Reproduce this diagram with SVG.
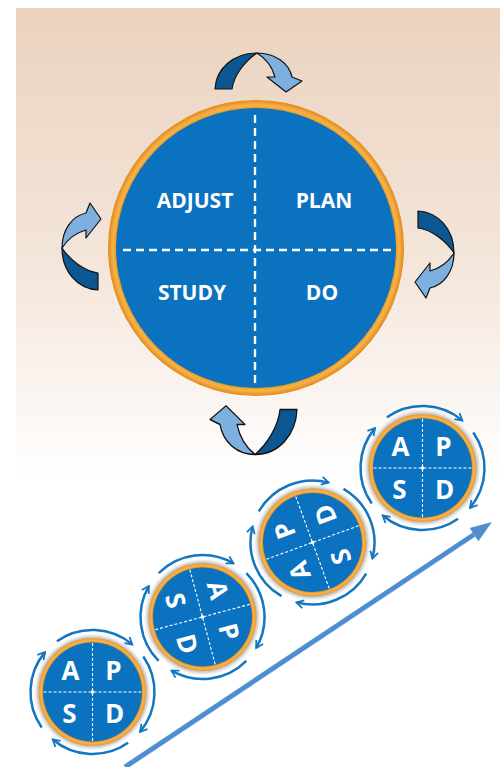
<svg xmlns="http://www.w3.org/2000/svg" xmlns:xlink="http://www.w3.org/1999/xlink" width="500" height="767" viewBox="0 0 500 767">
<defs>
<style>
.lbl{font-family:"Open Sans","Liberation Sans",sans-serif;font-weight:bold;fill:#ffffff;text-anchor:middle}
.big{font-size:21px}
.sm{font-size:26px}
.dk{fill:#0c5791;stroke:#111;stroke-width:1.2;stroke-linejoin:round}
.lt{fill:#7eb0df;stroke:#111;stroke-width:1.2;stroke-linejoin:round}
.ring{fill:none;stroke:#1276c1;stroke-width:2.5;marker-end:url(#chev)}
.dash{stroke:#ffffff;stroke-width:1.1;stroke-dasharray:3 2}
</style>
<linearGradient id="bg" x1="0" y1="0" x2="0" y2="1">
<stop offset="0" stop-color="#ebd2be"/>
<stop offset="0.55" stop-color="#f4e6db"/>
<stop offset="1" stop-color="#ffffff"/>
</linearGradient>
<radialGradient id="orB" cx="0.5" cy="0.5" r="0.5">
<stop offset="0.93" stop-color="#e38a1a"/>
<stop offset="0.965" stop-color="#f8b446"/>
<stop offset="1" stop-color="#e0891c"/>
</radialGradient>
<radialGradient id="orS" cx="0.5" cy="0.5" r="0.5">
<stop offset="0.9" stop-color="#d9801a"/>
<stop offset="0.95" stop-color="#f6b44c"/>
<stop offset="1" stop-color="#e49a3a"/>
</radialGradient>
<filter id="blur" x="-20%" y="-20%" width="140%" height="140%">
<feGaussianBlur stdDeviation="1.6"/>
</filter>
<marker id="chev" viewBox="0 0 10 10" refX="8" refY="5" markerWidth="10" markerHeight="10" markerUnits="userSpaceOnUse" orient="auto">
<path d="M1,1 L8,5 L1,9" fill="none" stroke="#1276c1" stroke-width="1.8"/>
</marker>
<g id="disc">
<circle r="56" fill="#8a8a8a" opacity="0.55" filter="url(#blur)"/>
<circle r="54" fill="url(#orS)"/>
<circle r="49.5" fill="#0b72bf"/>
<line x1="0" y1="-49" x2="0" y2="49" class="dash"/>
<line x1="-49" y1="0" x2="49" y2="0" class="dash"/>
<circle r="1.8" fill="#ffffff"/>
</g>
<g id="ring">
<path class="ring" d="M-35.56,-50.79 A62,62 0 0 1 39.85,-47.49"/>
<path class="ring" d="M50.79,-35.56 A62,62 0 0 1 47.49,39.85"/>
<path class="ring" d="M35.56,50.79 A62,62 0 0 1 -39.85,47.49"/>
<path class="ring" d="M-50.79,35.56 A62,62 0 0 1 -47.49,-39.85"/>
</g>
<g id="carrow">
<path class="dk" d="M-42,14 C-41,-6 -24,-22 0,-22 C-12,-14 -23,0 -25,14 Z"/>
<path class="lt" d="M0,-22 C18,-22 32,-12 35,2 L45,6 L29,17 L10,2 L18,2 C15,-9 8,-17 0,-22 Z"/>
</g>
</defs>

<rect x="16" y="8" width="484" height="472" fill="url(#bg)"/>

<g id="cycle-arrows">
<use xlink:href="#carrow" transform="translate(257,75)"/>
<use xlink:href="#carrow" transform="translate(432,253) rotate(90)"/>
<use xlink:href="#carrow" transform="translate(255,427) rotate(180) scale(1,1.25)"/>
<use xlink:href="#carrow" transform="translate(84,248) rotate(270)"/>
</g>

<g id="pdsa-circle">
<circle cx="256" cy="248" r="148" fill="url(#orB)"/>
<circle cx="256" cy="248" r="140" fill="#0b72bf"/>
<line x1="255" y1="115" x2="255" y2="386" stroke="#fff" stroke-width="2.4" stroke-dasharray="8 5"/>
<line x1="123" y1="250" x2="396" y2="250" stroke="#fff" stroke-width="2.4" stroke-dasharray="8 5"/>
</g>
<g id="adjust"><text class="lbl big" x="195" y="208">ADJUST</text></g>
<g id="plan"><text class="lbl big" x="324" y="208">PLAN</text></g>
<g id="study"><text class="lbl big" x="192" y="300">STUDY</text></g>
<g id="do"><text class="lbl big" x="322" y="300">DO</text></g>

<g id="trend-arrow">
<line x1="125" y1="767" x2="474" y2="534.5" stroke="#4f8fd0" stroke-width="5"/>
<polygon points="492,522 478.4,541.2 469.6,528" fill="#4f8fd0"/>
</g>

<g id="cycle1" transform="translate(92.5,692)">
<use xlink:href="#ring"/>
<use xlink:href="#disc"/>
<text class="lbl sm" x="-22" y="-12.5">A</text>
<text class="lbl sm" x="21" y="-12.5">P</text>
<text class="lbl sm" x="-23" y="31">S</text>
<text class="lbl sm" x="22" y="31">D</text>
</g>
<g id="cycle2" transform="translate(202.5,617)">
<use xlink:href="#ring" transform="rotate(-10)"/>
<g transform="rotate(75)">
<use xlink:href="#disc"/>
<text class="lbl sm" x="-22" y="-12.5">A</text>
<text class="lbl sm" x="21" y="-12.5">P</text>
<text class="lbl sm" x="-23" y="31">S</text>
<text class="lbl sm" x="22" y="31">D</text>
</g>
</g>
<g id="cycle3" transform="translate(312.5,542.5)">
<use xlink:href="#ring" transform="rotate(-25)"/>
<g transform="rotate(-110)">
<use xlink:href="#disc"/>
<text class="lbl sm" x="-22" y="-12.5">A</text>
<text class="lbl sm" x="21" y="-12.5">P</text>
<text class="lbl sm" x="-23" y="31">S</text>
<text class="lbl sm" x="22" y="31">D</text>
</g>
</g>
<g id="cycle4" transform="translate(422.5,468)">
<use xlink:href="#ring"/>
<use xlink:href="#disc"/>
<text class="lbl sm" x="-22" y="-12.5">A</text>
<text class="lbl sm" x="21" y="-12.5">P</text>
<text class="lbl sm" x="-23" y="31">S</text>
<text class="lbl sm" x="22" y="31">D</text>
</g>
</svg>
